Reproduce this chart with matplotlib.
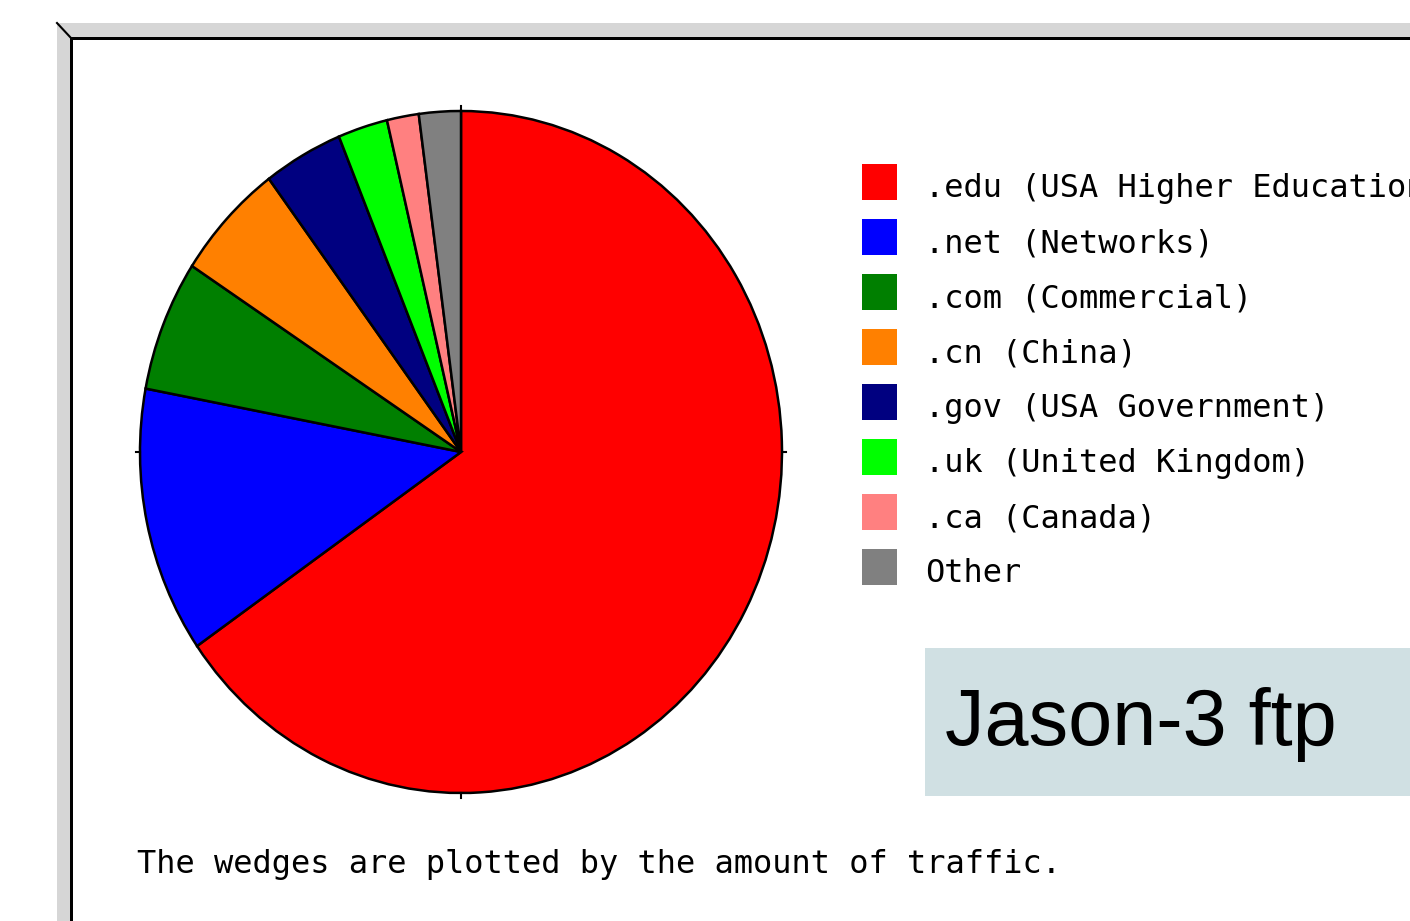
import matplotlib
matplotlib.use('Agg')
import matplotlib.pyplot as plt
from matplotlib.patches import Rectangle

# data (share of traffic, percent)
labels = ['.edu (USA Higher Education)', '.net (Networks)', '.com (Commercial)',
          '.cn (China)', '.gov (USA Government)', '.uk (United Kingdom)',
          '.ca (Canada)', 'Other']
shares = [65.3, 12.6, 6.2, 5.6, 4.0, 2.5, 1.6, 2.1]
colors = ['#ff0000', '#0000ff', '#007f00', '#ff8000',
          '#000080', '#00ff00', '#ff8080', '#808080']

caption = 'The wedges are plotted by the amount of traffic.'
badge = 'Jason-3 ftp'

W, H = 1410, 921
MONO = 'DejaVu Sans Mono'
FS = 23

fig = plt.figure(figsize=(W / 100, H / 100), dpi=100)
fig.patch.set_facecolor('white')

# background axes in pixel coordinates (y downwards)
bg = fig.add_axes([0, 0, 1, 1])
bg.set_xlim(0, W)
bg.set_ylim(H, 0)
bg.axis('off')

# window frame: grey bevel + black inner edge
bg.add_patch(Rectangle((57, 23), W - 57, 15, color='#d6d6d6', lw=0))
bg.add_patch(Rectangle((57, 23), 14, H - 23, color='#d6d6d6', lw=0))
bg.add_patch(Rectangle((70, 37), W - 70, 3, color='black', lw=0))
bg.add_patch(Rectangle((70, 37), 3, H - 37, color='black', lw=0))
bg.plot([57, 71], [23, 38], color='black', lw=1.5)

# pie (slightly taller than wide, like the screenshot)
cx, cy, rx, ry = 461, 452, 321, 341
ax = fig.add_axes([(cx - rx) / W, (H - cy - ry) / H, 2 * rx / W, 2 * ry / H])
ax.pie(shares, colors=colors, startangle=90, counterclock=False,
       wedgeprops=dict(edgecolor='black', linewidth=1.8))
ax.set_aspect('auto')
ax.set_xlim(-1, 1)
ax.set_ylim(-1, 1)
ax.axis('off')
# little tick marks at the four compass points
for x0, y0, x1, y1 in [(0, 1, 0, 1.015), (0, -1, 0, -1.015),
                       (-1, 0, -1.012, 0), (1, 0, 1.012, 0)]:
    ax.plot([x0, x1], [y0, y1], color='black', lw=1.5, clip_on=False)

# legend
row0, pitch = 197, 55
for i, (lab, col) in enumerate(zip(labels, colors)):
    yb = row0 + i * pitch
    bg.add_patch(Rectangle((862, yb - 33), 35, 36, color=col, lw=0))
    bg.text(925, yb, lab, fontsize=FS, family=MONO, va='baseline', ha='left',
            color='black', clip_on=True)

# caption under the pie
bg.text(137, 873, caption, fontsize=FS, family=MONO, va='baseline',
        ha='left', color='black')

# slide label box
bg.add_patch(Rectangle((925, 648), W - 925, 148, color='#d0e0e3', lw=0))
bg.text(945, 745, badge, fontsize=57, family='Liberation Sans',
        va='baseline', ha='left', color='black')

fig.savefig('out.png', dpi=100)
